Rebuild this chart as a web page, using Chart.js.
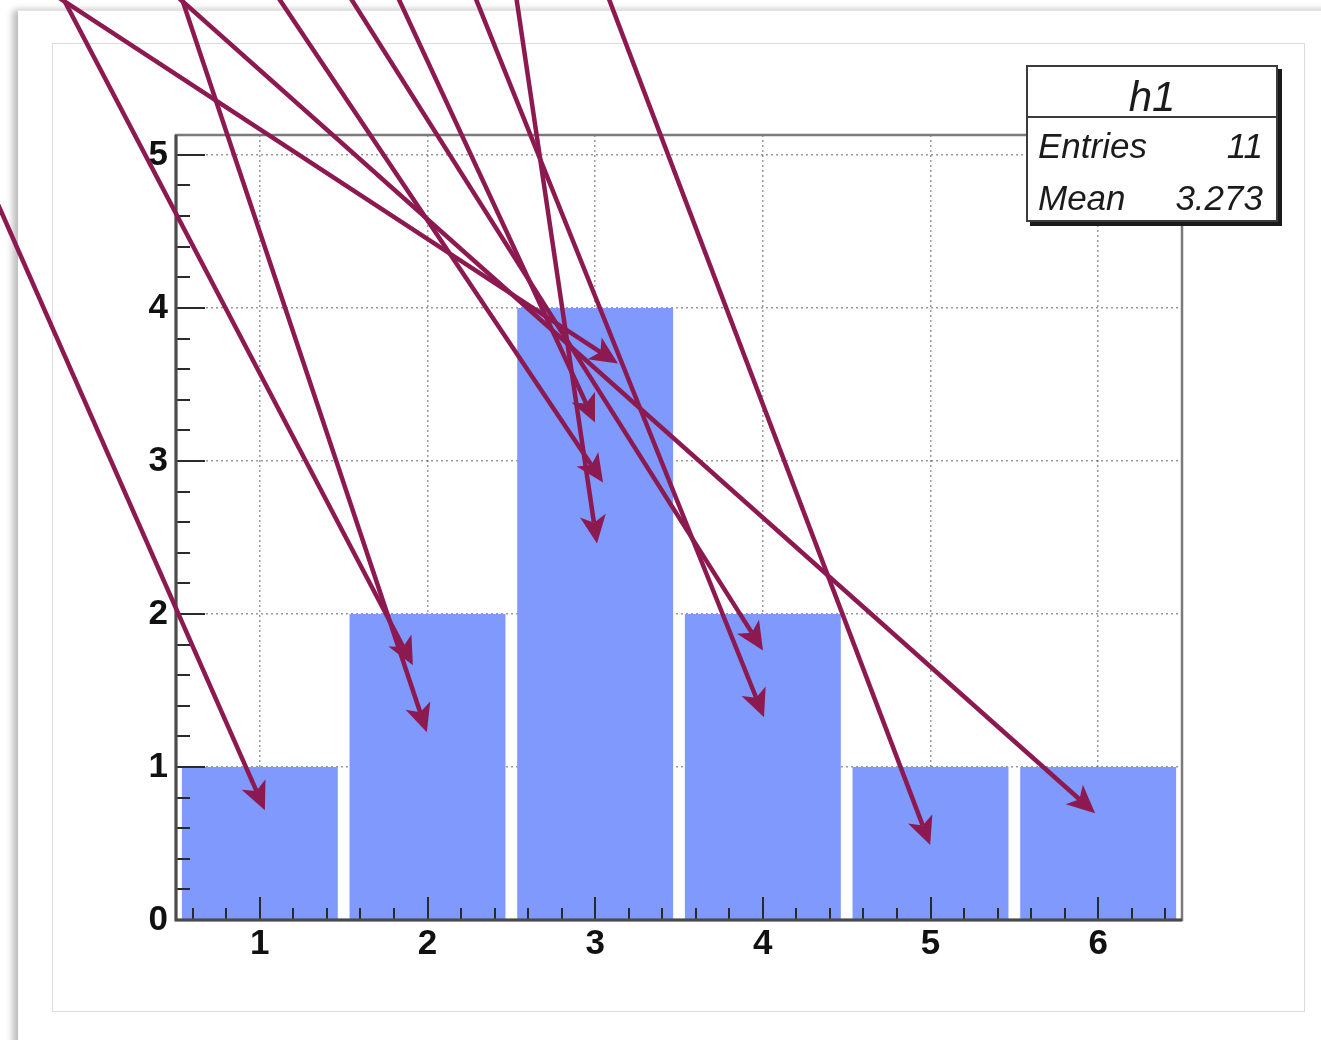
<!DOCTYPE html>
<html>
<head>
<meta charset="utf-8">
<script src="https://cdn.jsdelivr.net/npm/chart.js@4.4.1/dist/chart.umd.min.js"></script>
<style>
html,body{margin:0;padding:0;background:#fff;}
body{width:1321px;height:1040px;position:relative;overflow:hidden;font-family:'Liberation Sans',Arial,sans-serif;}
#win{position:absolute;left:18px;top:10px;width:1320px;height:1060px;border-top:1px solid #e4e4e4;box-shadow:-5px 0 7px rgba(0,0,0,0.28);background:#fff;}
#pad{position:absolute;left:52px;top:43px;width:1251px;height:967px;border:1px solid #dcdcdc;}
#c{position:absolute;left:0;top:0;}
#stats{position:absolute;left:1026px;top:65px;width:248px;height:153px;border:2px solid #3c3c3c;background:#fff;box-shadow:4px 4px 0 #1a1a1a;font-style:italic;color:#1b1b1b;}
#stats .div{position:absolute;left:0;right:0;top:49px;height:2px;background:#3c3c3c;}
#stats span{position:absolute;white-space:nowrap;}
#stats .t{left:0;right:0;text-align:center;font-size:42px;line-height:42px;top:9px;}
#stats .k{left:10px;font-size:35px;line-height:35px;}
#stats .v{right:13px;font-size:35px;line-height:35px;}
</style>
</head>
<body>
<div id="win"></div>
<div id="pad"></div>
<canvas id="c" width="1321" height="1040"></canvas>
<div id="stats">
  <span class="t">h1</span>
  <div class="div"></div>
  <span class="k" style="top:61px">Entries</span><span class="v" style="top:61px">11</span>
  <span class="k" style="top:113px">Mean</span><span class="v" style="top:113px">3.273</span>
</div>
<script>
// ---- data ----
const binCenters = [1, 2, 3, 4, 5, 6];
const binCounts  = [1, 2, 4, 2, 1, 1];
const xTickValues = [1, 2, 3, 4, 5, 6];
const yTickValues = [0, 1, 2, 3, 4, 5];
// arrows (data coordinates): start (above the frame) and tip
const arrowFromX = [-1.134, -0.210, 0.511, -0.300, 1.794, 1.066, 2.520, 1.498, 2.259, 3.054, 0.440];
const arrowFromY = [6.10, 6.10, 6.10, 6.10, 6.10, 6.10, 6.10, 6.10, 6.10, 6.10, 6.10];
const arrowToX   = [1.030, 1.913, 1.996, 3.136, 2.999, 3.047, 3.011, 4.001, 4.007, 4.998, 5.982];
const arrowToY   = [0.718, 1.664, 1.227, 3.636, 3.251, 2.859, 2.461, 1.762, 1.325, 0.490, 0.698];

const xMin = 0.5, xMax = 6.5, yMin = 0, yMax = 5.13;
const minorStep = 0.2;

const barColor = '#7f99fd';
const arrowColor = '#8c1a51';
const gridColor = 'rgba(0,0,0,0.40)';
const tickFont = {family: "'Liberation Sans', Arial, sans-serif", size: 35, weight: 'bold'};

function drawArrow(ctx, x0, y0, x1, y1) {
  const a = Math.atan2(y1 - y0, x1 - x0);
  const c = Math.cos(a), s = Math.sin(a);
  const L = 28, W = 13, notch = 7;
  const nx = x1 - (L - notch) * c, ny = y1 - (L - notch) * s;
  ctx.beginPath();
  ctx.moveTo(x0, y0);
  ctx.lineTo(nx, ny);
  ctx.stroke();
  const bx = x1 - L * c, by = y1 - L * s;
  ctx.beginPath();
  ctx.moveTo(x1, y1);
  ctx.lineTo(bx - W * s, by + W * c);
  ctx.lineTo(nx, ny);
  ctx.lineTo(bx + W * s, by - W * c);
  ctx.closePath();
  ctx.fill();
}

function minorValues(lo, hi) {
  const out = [];
  const k0 = Math.ceil(lo / minorStep - 1e-6), k1 = Math.floor(hi / minorStep + 1e-6);
  for (let k = k0; k <= k1; k++) out.push(Math.round(k * minorStep * 1000) / 1000);
  return out;
}

const rootPlugin = {
  id: 'rootDecor',
  afterDraw(chart) {
    const ctx = chart.ctx;
    const xs = chart.scales.x, ys = chart.scales.y;
    const ca = chart.chartArea;
    ctx.save();
    // tick marks inside the frame
    ctx.strokeStyle = '#2a2a2a';
    ctx.lineWidth = 2;
    minorValues(xMin, xMax).forEach(v => {
      if (v <= xMin || v >= xMax) return;
      const isMajor = Math.abs(v - Math.round(v)) < 1e-6;
      const px = Math.round(xs.getPixelForValue(v));
      ctx.beginPath();
      ctx.moveTo(px, ca.bottom);
      ctx.lineTo(px, ca.bottom - (isMajor ? 23 : 12));
      ctx.stroke();
    });
    minorValues(yMin, yMax).forEach(v => {
      const isMajor = Math.abs(v - Math.round(v)) < 1e-6;
      const py = Math.round(ys.getPixelForValue(v));
      ctx.beginPath();
      ctx.moveTo(ca.left, py);
      ctx.lineTo(ca.left + (isMajor ? 29 : 14), py);
      ctx.stroke();
    });
    // frame
    ctx.strokeStyle = '#7a7a7a';
    ctx.lineWidth = 2.5;
    ctx.strokeRect(ca.left, ca.top, ca.right - ca.left, ca.bottom - ca.top);
    ctx.strokeStyle = '#4a4a4a';
    ctx.lineWidth = 3;
    ctx.beginPath();
    ctx.moveTo(ca.left, ca.top);
    ctx.lineTo(ca.left, ca.bottom);
    ctx.lineTo(ca.right, ca.bottom);
    ctx.stroke();
    // arrows
    ctx.strokeStyle = arrowColor;
    ctx.fillStyle = arrowColor;
    ctx.lineWidth = 4.5;
    ctx.lineCap = 'butt';
    for (let i = 0; i < arrowToX.length; i++) {
      drawArrow(ctx,
        xs.getPixelForValue(arrowFromX[i]), ys.getPixelForValue(arrowFromY[i]),
        xs.getPixelForValue(arrowToX[i]), ys.getPixelForValue(arrowToY[i]));
    }
    ctx.restore();
  }
};

new Chart(document.getElementById('c'), {
  type: 'bar',
  data: {
    datasets: [{
      label: 'h1',
      data: binCenters.map((x, i) => ({x: x, y: binCounts[i]})),
      backgroundColor: barColor,
      borderWidth: 0,
      barPercentage: 0.93,
      categoryPercentage: 1.0
    }]
  },
  options: {
    responsive: false,
    maintainAspectRatio: false,
    animation: false,
    devicePixelRatio: 1,
    layout: {padding: {left: 0, top: 135, right: 139, bottom: 0}},
    plugins: {legend: {display: false}, tooltip: {enabled: false}},
    scales: {
      x: {
        type: 'linear',
        min: xMin, max: xMax,
        offset: false,
        z: 1,
        afterBuildTicks: (s) => { s.ticks = xTickValues.map(v => ({value: v})); },
        afterFit: (s) => { s.height = 120; },
        grid: {offset: false, color: gridColor, lineWidth: 1.5, drawTicks: false},
        border: {display: false, dash: [2, 3]},
        ticks: {font: tickFont, color: '#111', padding: 3, maxRotation: 0, autoSkip: false}
      },
      y: {
        type: 'linear',
        min: yMin, max: yMax,
        z: 1,
        afterBuildTicks: (s) => { s.ticks = yTickValues.map(v => ({value: v})); },
        afterFit: (s) => { s.width = 176; },
        grid: {color: gridColor, lineWidth: 1.5, drawTicks: false},
        border: {display: false, dash: [2, 3]},
        ticks: {font: tickFont, color: '#111', padding: 8}
      }
    }
  },
  plugins: [rootPlugin]
});
</script>
</body>
</html>
